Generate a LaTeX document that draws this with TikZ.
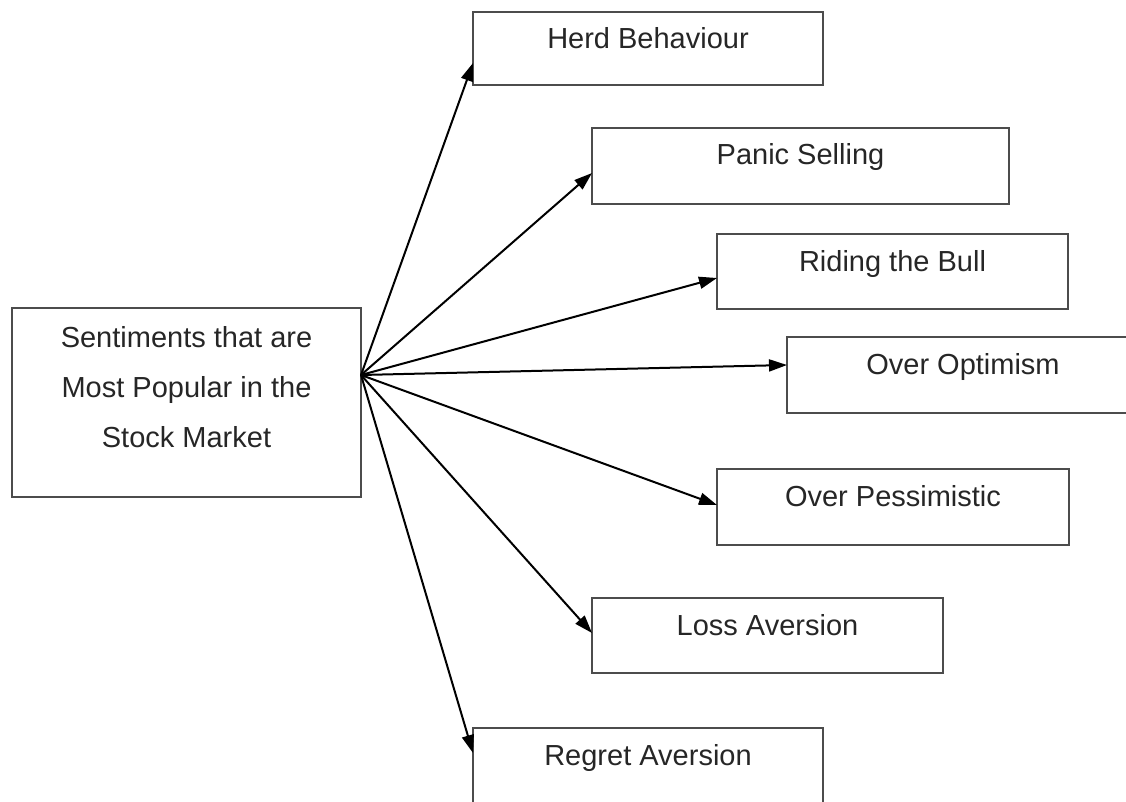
\documentclass[tikz,border=0pt]{standalone}
\usepackage{fontspec}
\setmainfont{Liberation Sans}
\usetikzlibrary{arrows.meta,calc}
\begin{document}
\begin{tikzpicture}[x=1pt,y=-1pt,
  box/.style={draw=black!70,line width=2.2pt,rectangle,anchor=north west,inner sep=0pt,outer sep=0pt},
  lbl/.style={anchor=base,inner sep=0pt,text=black!85,font=\fontsize{29}{50}\selectfont},
  arr/.style={line width=2pt,-{Triangle[length=18pt,width=12pt]}}]
\useasboundingbox (0,0) rectangle (1126,802);
% source box
\node[box,minimum width=349pt,minimum height=189pt] (sm) at (12,308) {};
\node[lbl] (sm1) at ($(sm.north)+(0,39)$) {Sentiments that are};
\node[lbl] (sm2) at ($(sm.north)+(0,89)$) {Most Popular in the};
\node[lbl] (sm3) at ($(sm.north)+(0,139)$) {Stock Market};
\coordinate (src) at ($(sm.north east)+(0,67)$);
% target boxes
\node[box,minimum width=350pt,minimum height=73pt] (hb) at (473,12) {};
\node[lbl] (hbt) at ($(hb.north)+(0,37)$) {Herd Behaviour};
\node[box,minimum width=417pt,minimum height=76pt] (ps) at (592,128) {};
\node[lbl] (pst) at ($(ps.north)+(0,37)$) {Panic Selling};
\node[box,minimum width=351pt,minimum height=75pt] (rb) at (717,234) {};
\node[lbl] (rbt) at ($(rb.north)+(0,37)$) {Riding the Bull};
\node[box,minimum width=352pt,minimum height=76pt] (oo) at (787,337) {};
\node[lbl] (oot) at ($(oo.north)+(0,37)$) {Over Optimism};
\node[box,minimum width=352pt,minimum height=76pt] (op) at (717,469) {};
\node[lbl] (opt) at ($(op.north)+(0,37)$) {Over Pessimistic};
\node[box,minimum width=351pt,minimum height=75pt] (la) at (592,598) {};
\node[lbl] (lat) at ($(la.north)+(0,37)$) {Loss Aversion};
\node[box,minimum width=350pt,minimum height=76pt] (ra) at (473,728) {};
\node[lbl] (rat) at ($(ra.north)+(0,37)$) {Regret Aversion};
% arrow tips on the left edges
\coordinate (thb) at ($(hb.north west)+(0,51)$);
\coordinate (tps) at ($(ps.north west)+(0,45)$);
\coordinate (trb) at ($(rb.north west)+(0,44)$);
\coordinate (too) at ($(oo.north west)+(0,28)$);
\coordinate (top) at ($(op.north west)+(0,36)$);
\coordinate (tla) at ($(la.north west)+(0,35)$);
\coordinate (tra) at ($(ra.north west)+(0,25)$);
\foreach \t in {thb,tps,trb,too,top,tla,tra}
  \draw[arr] (src) -- (\t);
\end{tikzpicture}
\end{document}
